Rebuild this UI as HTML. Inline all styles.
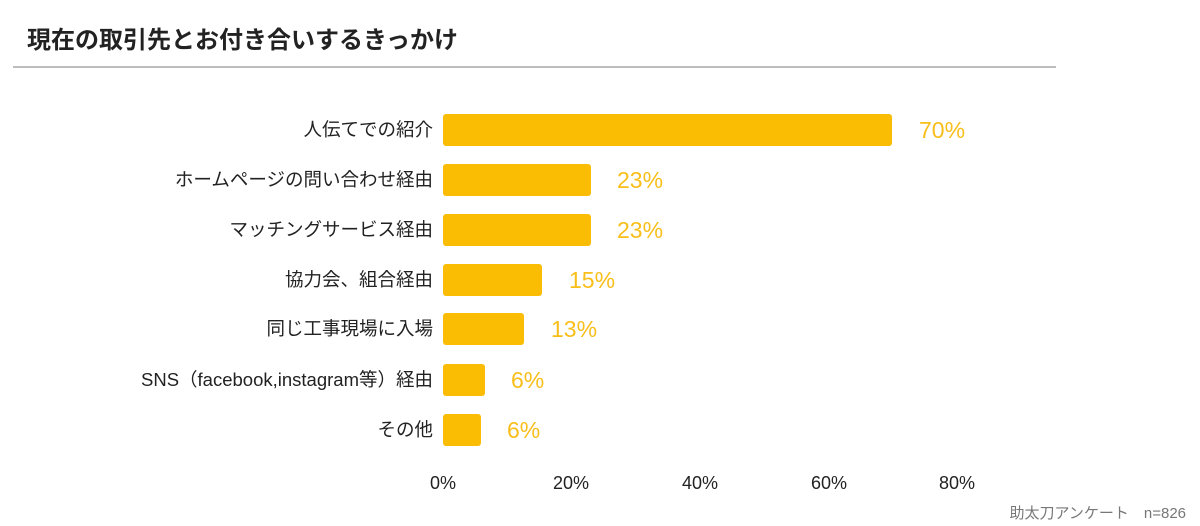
<!DOCTYPE html>
<html><head><meta charset="utf-8"><style>
body{margin:0;width:1200px;height:526px;background:#fff;position:relative;font-family:"Liberation Sans","Noto Sans CJK JP",sans-serif;overflow:hidden}
.t{position:absolute;left:27px;top:20px;font-size:24px;font-weight:bold;color:#222}
.hr{position:absolute;left:13px;top:66px;width:1043px;height:2px;background:#bdbdbd}
.lab{position:absolute;right:767px;font-size:18.5px;color:#222;white-space:nowrap;line-height:22px}
.bar{position:absolute;left:443px;height:32px;background:#fbbc04;border-radius:3px}
.val{position:absolute;font-size:23px;color:#f8be1a;line-height:26px}
.ax{position:absolute;top:473px;font-size:18px;color:#222;transform:translateX(-50%)}
.src{position:absolute;right:14px;top:502px;font-size:15px;color:#777}
</style></head><body>
<div class="t">現在の取引先とお付き合いするきっかけ</div>
<div class="hr"></div>

<div class="lab" style="top:119px">人伝てでの紹介</div>
<div class="bar" style="top:114px;width:449px"></div>
<div class="val" style="left:919px;top:117px">70%</div>

<div class="lab" style="top:169px">ホームページの問い合わせ経由</div>
<div class="bar" style="top:164px;width:148px"></div>
<div class="val" style="left:617px;top:167px">23%</div>

<div class="lab" style="top:219px">マッチングサービス経由</div>
<div class="bar" style="top:214px;width:148px"></div>
<div class="val" style="left:617px;top:217px">23%</div>

<div class="lab" style="top:269px">協力会、組合経由</div>
<div class="bar" style="top:264px;width:99px"></div>
<div class="val" style="left:569px;top:267px">15%</div>

<div class="lab" style="top:318px">同じ工事現場に入場</div>
<div class="bar" style="top:313px;width:81px"></div>
<div class="val" style="left:551px;top:316px">13%</div>

<div class="lab" style="top:369px">SNS（facebook,instagram等）経由</div>
<div class="bar" style="top:364px;width:42px"></div>
<div class="val" style="left:511px;top:367px">6%</div>

<div class="lab" style="top:419px">その他</div>
<div class="bar" style="top:414px;width:38px"></div>
<div class="val" style="left:507px;top:417px">6%</div>

<div class="ax" style="left:443px">0%</div>
<div class="ax" style="left:571px">20%</div>
<div class="ax" style="left:700px">40%</div>
<div class="ax" style="left:829px">60%</div>
<div class="ax" style="left:957px">80%</div>
<div class="src">助太刀アンケート　n=826</div>
</body></html>
